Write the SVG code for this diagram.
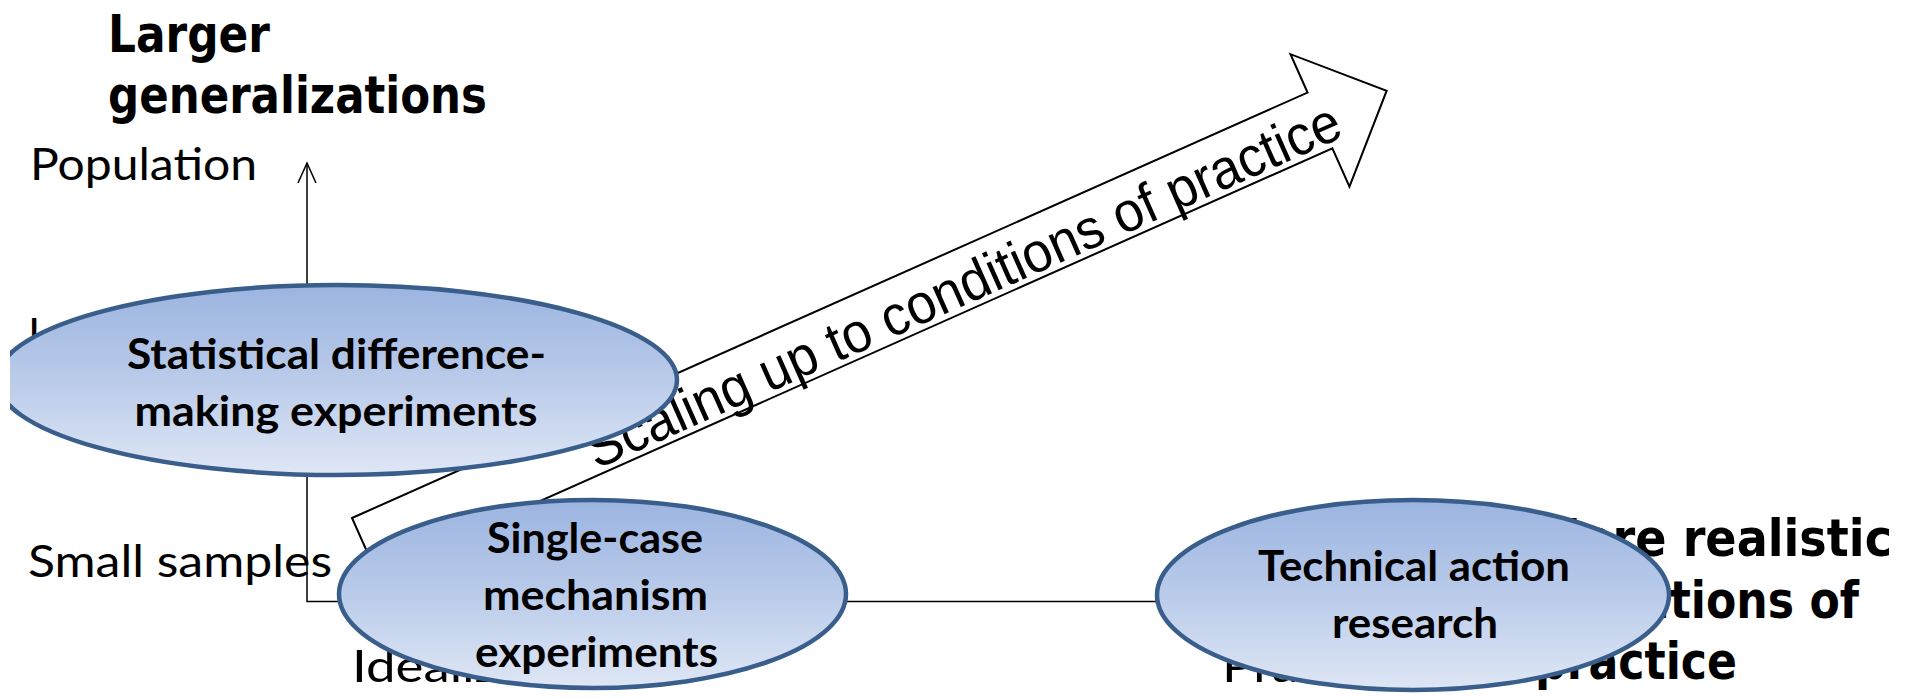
<svg xmlns="http://www.w3.org/2000/svg" width="1914" height="699" viewBox="0 0 1914 699">
  <defs>
    <style>
      .lbl{font-family:Lato,'Liberation Sans',sans-serif;font-size:44px;fill:#000}
      .hand{font-family:'Comic Sans MS','DejaVu Sans',sans-serif;font-weight:bold;font-size:52px;fill:#000}
      .node ellipse{fill:url(#nodeFill);stroke:#3A5E8C;stroke-width:4.5}
      .node text{font-family:Lato,'Liberation Sans',sans-serif;font-weight:bold;font-size:42px;text-anchor:middle;fill:#000}
      .axis{fill:none;stroke:#000;stroke-width:1.5}
      .band{fill:#fff;stroke:#000;stroke-width:2;stroke-linejoin:miter}
      .band-text{font-family:'Liberation Sans',Arial,sans-serif;font-size:56px;fill:#000}
    </style>
    <linearGradient id="nodeFill" x1="0" y1="0" x2="0" y2="1">
      <stop offset="0" stop-color="#9BB4E0"/>
      <stop offset="0.5" stop-color="#BACBEA"/>
      <stop offset="1" stop-color="#DFE7F5"/>
    </linearGradient>
    <marker id="openHead" markerUnits="userSpaceOnUse" markerWidth="24" markerHeight="22" refX="20" refY="10" orient="auto">
      <path d="M0,1 L20,10 L0,19" fill="none" stroke="#000" stroke-width="1.5"/>
    </marker>
    <clipPath id="leftCut">
      <rect x="10" y="0" width="1904" height="699"/>
    </clipPath>
  </defs>

  <rect width="1914" height="699" fill="#fff"/>

  <!-- axis and heading labels -->
  <g id="labels">
    <text class="hand" x="108" y="52" textLength="162" lengthAdjust="spacingAndGlyphs">Larger</text>
    <text class="hand" x="108" y="113" textLength="379" lengthAdjust="spacingAndGlyphs">generalizations</text>
    <text class="lbl" x="30" y="180" textLength="227" lengthAdjust="spacingAndGlyphs">Population</text>
    <text class="lbl" x="28" y="350">Large samples</text>
    <text class="lbl" x="28" y="577" textLength="304" lengthAdjust="spacingAndGlyphs">Small samples</text>
    <text class="lbl" transform="translate(352 682) scale(1.2 1)">Idealized</text>
    <text class="lbl" transform="translate(1222 682) scale(1.2 1)">Practice</text>
    <text class="hand" x="1535" y="556" textLength="357" lengthAdjust="spacingAndGlyphs">More realistic</text>
    <text class="hand" x="1535" y="618" textLength="324" lengthAdjust="spacingAndGlyphs">conditions of</text>
    <text class="hand" x="1535" y="679" textLength="202" lengthAdjust="spacingAndGlyphs">practice</text>
  </g>

  <!-- axes -->
  <g id="connectors">
    <path class="axis" d="M1300,601.5 H307 V163" marker-end="url(#openHead)"/>
  </g>

  <!-- block arrow along the diagonal -->
  <g id="scaling-arrow" transform="translate(352 518) rotate(-24)">
    <path class="band" d="M0,0 H1046 V-42 L1119,30.5 L1046,103 V61 H0 Z"/>
    <text class="band-text" x="243" y="55" textLength="820" lengthAdjust="spacingAndGlyphs">Scaling up to conditions of practice</text>
  </g>

  <g id="node-statistical" class="node" clip-path="url(#leftCut)">
    <ellipse cx="337" cy="380" rx="340" ry="95"/>
    <text x="336.5" y="369" textLength="419" lengthAdjust="spacingAndGlyphs">Statistical difference-</text>
    <text x="336" y="426" textLength="403" lengthAdjust="spacingAndGlyphs">making experiments</text>
  </g>

  <g id="node-single-case" class="node">
    <ellipse cx="592.5" cy="594" rx="253.5" ry="94"/>
    <text x="595" y="553" textLength="216" lengthAdjust="spacingAndGlyphs">Single-case</text>
    <text x="595.5" y="610" textLength="225" lengthAdjust="spacingAndGlyphs">mechanism</text>
    <text x="596.5" y="667" textLength="243" lengthAdjust="spacingAndGlyphs">experiments</text>
  </g>

  <g id="node-tar" class="node">
    <ellipse cx="1413" cy="595" rx="256" ry="95"/>
    <text x="1414" y="581" textLength="312" lengthAdjust="spacingAndGlyphs">Technical action</text>
    <text x="1415" y="638" textLength="166" lengthAdjust="spacingAndGlyphs">research</text>
  </g>
</svg>
